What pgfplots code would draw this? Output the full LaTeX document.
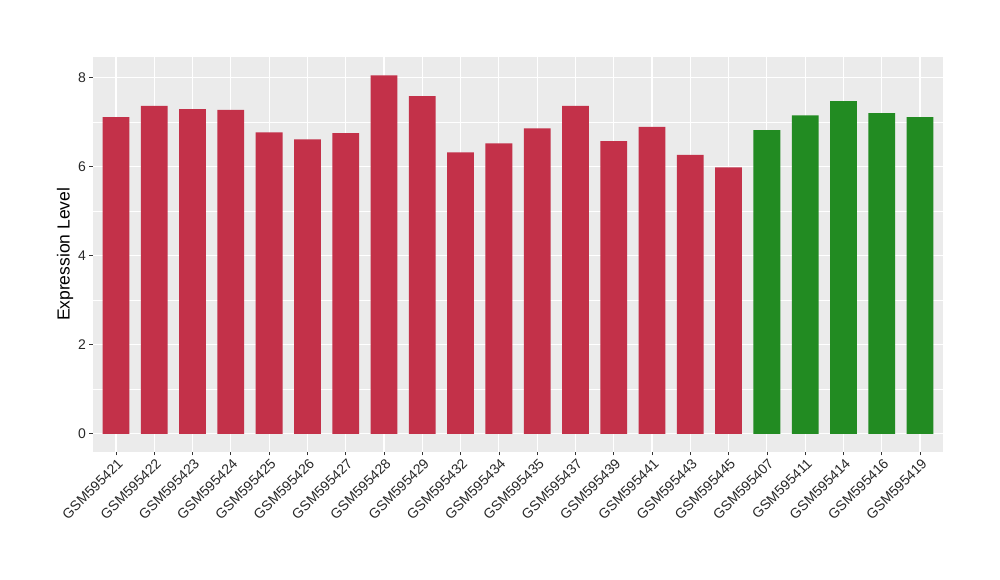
\documentclass[border=0pt]{standalone}
\usepackage{pgfplots}
\pgfplotsset{compat=1.18}
\usepackage{fontspec}
\setmainfont{Liberation Sans}
\definecolor{barred}{RGB}{195,49,73}
\definecolor{bargreen}{RGB}{34,139,34}
\definecolor{ggbg}{RGB}{235,235,235}
\definecolor{ggtext}{RGB}{40,40,40}
\begin{document}
\begin{tikzpicture}[x=1pt,y=1pt]
\useasboundingbox (0,0) rectangle (1000,580);
\begin{axis}[
  at={(93pt,128.3pt)}, anchor=south west,
  scale only axis, width=850pt, height=394.7pt,
  xmin=0.4, xmax=22.6, ymin=-0.403, ymax=8.46,
  axis background/.style={fill=ggbg},
  axis line style={draw=none},
  xtick={1,...,22},
  xticklabels={GSM595421,GSM595422,GSM595423,GSM595424,GSM595425,GSM595426,GSM595427,GSM595428,GSM595429,GSM595432,GSM595434,GSM595435,GSM595437,GSM595439,GSM595441,GSM595443,GSM595445,GSM595407,GSM595411,GSM595414,GSM595416,GSM595419},
  ytick={0,2,4,6,8},
  minor ytick={1,3,5,7},
  grid=both,
  major grid style={white, line width=1.1pt},
  minor grid style={white, line width=0.55pt},
  tick align=outside,
  major tick length=3.6pt,
  minor tick length=0pt,
  tick style={black!80, line width=0.7pt},
  xtick pos=bottom, ytick pos=left,
  x tick label style={rotate=45, anchor=north east, font=\fontsize{14}{16}\selectfont, text=ggtext, inner sep=1pt, yshift=-1pt},
  y tick label style={font=\fontsize{14}{16}\selectfont, text=ggtext},
  /pgf/number format/assume math mode=true,
  ylabel={Expression Level},
  every axis y label/.style={at={(axis description cs:-0.0329,0.5)}, rotate=90, anchor=center, font=\fontsize{17.5}{20}\selectfont},
  ybar, bar width=0.7, bar shift=0pt,
]
\addplot[fill=barred, draw=none] coordinates {
(1,7.11) (2,7.36) (3,7.29) (4,7.27) (5,6.77) (6,6.61) (7,6.75) (8,8.05) (9,7.58) (10,6.32) (11,6.52) (12,6.86) (13,7.36) (14,6.57) (15,6.89) (16,6.26) (17,5.98)};
\addplot[fill=bargreen, draw=none] coordinates {
(18,6.82) (19,7.15) (20,7.47) (21,7.20) (22,7.11)};
\end{axis}
\end{tikzpicture}
\end{document}
